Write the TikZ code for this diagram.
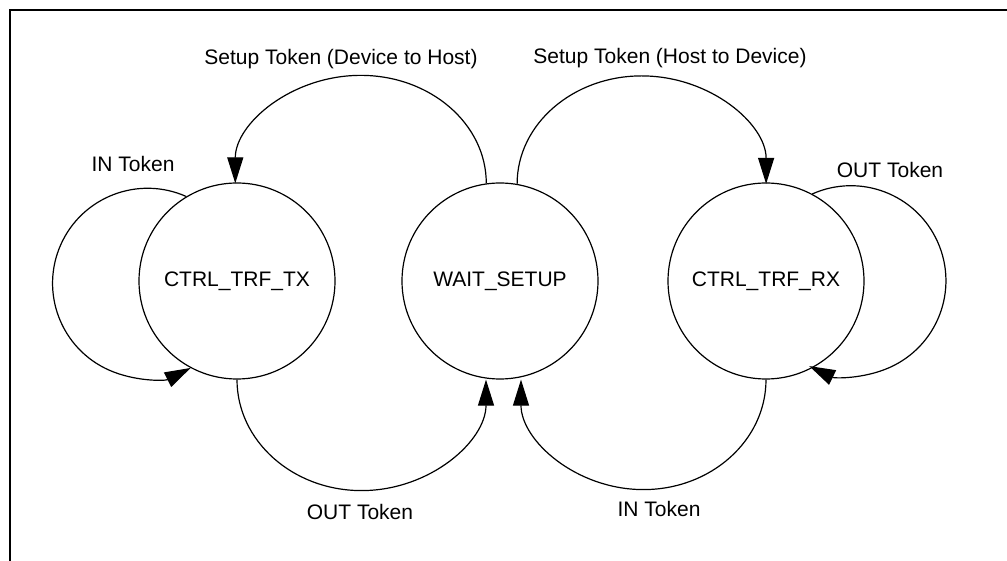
\documentclass[tikz,border=0pt]{standalone}
\usepackage{fontspec}
\setmainfont{Liberation Sans}
\usetikzlibrary{arrows.meta}

\begin{document}
\begin{tikzpicture}[%
x=1pt, y=1pt,
state/.style = {draw, circle, line width=1.2pt, minimum size=196pt, inner sep=0pt, font=\fontsize{21}{25}\selectfont},
tok/.style = {anchor=base, inner sep=0pt, font=\fontsize{21}{25}\selectfont},
trans/.style = {line width=1.2pt, -{Triangle[length=26pt,width=16pt]}}]
\useasboundingbox (0,0) rectangle (1007,-561);
\draw[line width=2.5pt] (10,-561) -- (10,-10) -- (1007,-10);

\node[state] (tx) at (237,-281) {CTRL\_TRF\_TX};
\node[state] (ws) at (500,-281) {WAIT\_SETUP};
\node[state] (rx) at (766,-281) {CTRL\_TRF\_RX};

\draw[trans] (ws.98) arc[start angle=0, end angle=180, x radius=125.5, y radius=108];
\draw[trans] (ws.80) arc[start angle=180, end angle=0, x radius=124.5, y radius=108];
\draw[trans] (tx.south) arc[start angle=180, end angle=360, x radius=124.5, y radius=111];
\draw[trans] (rx.south) arc[start angle=0, end angle=-180, x radius=122.5, y radius=110];
\draw[trans] (tx.121) arc[start angle=66, end angle=297, radius=95];
\draw[trans] (rx.62) arc[start angle=114, end angle=-116, radius=95];

\node[tok] (lsdh) at (341,-65) {Setup Token (Device to Host)};
\node[tok] (lshd) at (670,-64) {Setup Token (Host to Device)};
\node[tok] (linl) at (133,-172) {IN Token};
\node[tok] (loutr) at (890,-178) {OUT Token};
\node[tok] (loutb) at (360,-519) {OUT Token};
\node[tok] (linb) at (659,-516) {IN Token};
\end{tikzpicture}
\end{document}
